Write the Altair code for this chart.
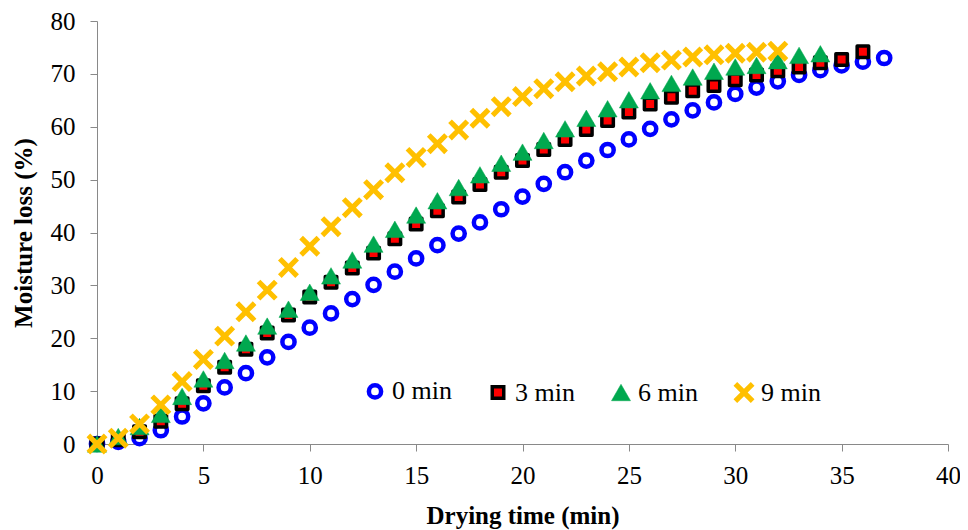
import altair as alt
import pandas as pd

series_names = ["0 min", "3 min", "6 min", "9 min"]

loss_0 = [0, 0.4, 1.1, 2.6, 5.2, 7.7, 10.7, 13.4, 16.4, 19.3, 22.0, 24.7, 27.4, 30.1, 32.6,
          35.1, 37.6, 39.8, 41.9, 44.4, 46.8, 49.2, 51.4, 53.6, 55.6, 57.6, 59.6, 61.4,
          63.1, 64.6, 66.2, 67.4, 68.6, 69.8, 70.7, 71.6, 72.3, 73.0]
loss_3 = [0, 0.8, 2.3, 4.3, 7.6, 11.0, 14.5, 17.9, 21.0, 24.4, 27.8, 30.6, 33.3, 36.1, 38.8,
          41.6, 44.1, 46.7, 49.1, 51.4, 53.6, 55.7, 57.6, 59.5, 61.2, 62.8, 64.3, 65.6,
          66.8, 67.8, 68.9, 69.8, 70.6, 71.3, 72.1, 72.7, 74.2]
loss_6 = [0, 1.4, 3.3, 5.6, 9.0, 12.3, 15.8, 19.1, 22.3, 25.5, 28.7, 31.8, 34.8, 37.8, 40.6,
          43.3, 46.0, 48.5, 50.9, 53.1, 55.2, 57.4, 59.6, 61.6, 63.4, 65.1, 66.8, 68.2,
          69.4, 70.5, 71.3, 71.6, 72.5, 73.5, 73.8]
loss_9 = [0, 1.1, 3.8, 7.4, 11.8, 16.0, 20.4, 25.0, 29.1, 33.4, 37.4, 41.1, 44.7, 48.1, 51.3,
          54.2, 56.8, 59.4, 61.6, 63.8, 65.7, 67.2, 68.5, 69.6, 70.4, 71.3, 72.1, 72.6,
          73.2, 73.6, 73.9, 74.1, 74.3]

x_ticks = [0, 5, 10, 15, 20, 25, 30, 35, 40]
y_ticks = [0, 10, 20, 30, 40, 50, 60, 70, 80]

X_PATH = ("M-1,-0.65L-0.65,-1L0,-0.35L0.65,-1L1,-0.65L0.35,0L1,0.65L0.65,1L0,0.35"
          "L-0.65,1L-1,0.65L-0.35,0Z")

rows = []
for name, vals in zip(series_names, [loss_0, loss_3, loss_6, loss_9]):
    for t, v in enumerate(vals):
        rows.append({"time": t, "loss": v, "series": name})
df = pd.DataFrame(rows)
df["order"] = range(len(df))

FONT = "Liberation Serif, Times New Roman, Times, serif"

chart = alt.Chart(df).mark_point(filled=True, opacity=1, strokeJoin="round").encode(
    x=alt.X("time:Q", title="Drying time (min)",
            scale=alt.Scale(domain=[0, 40], nice=False, zero=False),
            axis=alt.Axis(values=x_ticks, labelPadding=12, titlePadding=15,
                          labelFlush=False, labelOverlap=False)),
    y=alt.Y("loss:Q", title="Moisture loss (%)",
            scale=alt.Scale(domain=[0, 80], nice=False),
            axis=alt.Axis(values=y_ticks, labelPadding=15, titlePadding=14,
                          labelFlush=False, labelOverlap=False)),
    shape=alt.Shape("series:N", scale=alt.Scale(domain=series_names,
                    range=["circle", "square", "triangle-up", X_PATH]),
                    legend=alt.Legend(title=None, orient="none", legendX=265, legendY=357,
                                      direction="horizontal", columns=4)),
    fill=alt.Fill("series:N", scale=alt.Scale(domain=series_names,
                  range=["#FFFFFF", "#FF0000", "#00A84F", "#FFC000"])),
    stroke=alt.Stroke("series:N", scale=alt.Scale(domain=series_names,
                      range=["#0000FF", "#000000", "#00A84F", "#FFC000"])),
    strokeWidth=alt.StrokeWidth("series:N", scale=alt.Scale(type="ordinal", domain=series_names,
                                range=[4.5, 3.5, 0.5, 0])),
    size=alt.Size("series:N", scale=alt.Scale(type="ordinal", domain=series_names,
                  range=[149, 132, 361, 440])),
    order=alt.Order("order:Q"),
).properties(
    width=851, height=423,
    autosize=alt.AutoSizeParams(type="none"),
    padding={"left": 89, "top": 13, "right": 12, "bottom": 86},
).configure_view(stroke=None).configure_axis(
    grid=False,
    domainColor="#898989", tickColor="#898989", tickSize=7,
    labelFont=FONT, labelFontSize=25, labelColor="#000000",
    titleFont=FONT, titleFontSize=25, titleFontWeight="bold", titleColor="#000000",
).configure_legend(
    labelFont=FONT, labelFontSize=26, labelColor="#000000",
    columnPadding=33, padding=0, labelOffset=4, symbolOpacity=1,
)

chart.save("out.html", embed_options={"renderer": "svg", "actions": False})
